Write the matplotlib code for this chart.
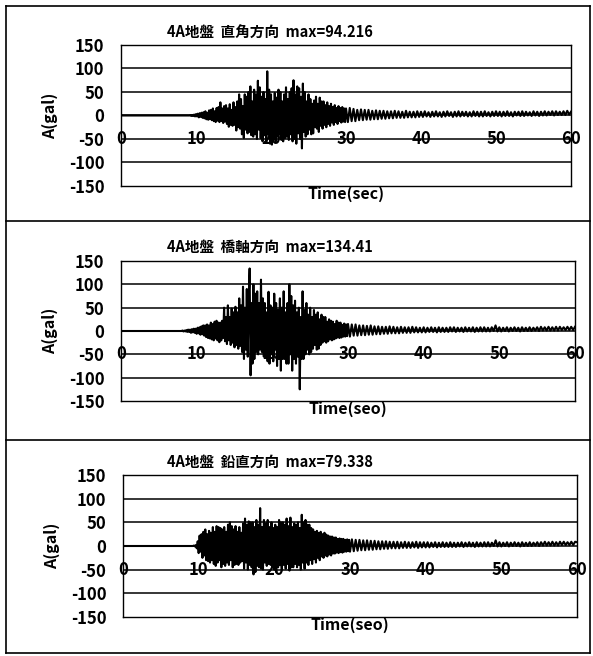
import numpy as np
import matplotlib
matplotlib.use("Agg")
import matplotlib.pyplot as plt
from matplotlib.lines import Line2D

plt.rcParams['font.family'] = ['Noto Sans CJK JP', 'DejaVu Sans']
plt.rcParams['font.weight'] = 'bold'

# acceleration records (gal)
# strong-motion part: every 0.125 s from 8 s to 30 s
# tail: every 0.25 s from 30 s to 60 s
t_start, t_mid, t_end = 8.0, 30.0, 60.0

perp_main = [
    0, 0, 0, 0, 0, 0, 0, 0,
    0, 0, 1, -1, 1, -1, 2, -2,
    3, -2, 4, -4, 5, -3, 6, -5,
    7, -6, 9, -8, 6, -9, 11, -8,
    12, -10, 15, -12, 9, -14, 16, -11,
    18, -14, 28, -12, 15, -16, 20, -13,
    22, -18, 15, -24, 24, -20, 12, -22,
    28, -20, 18, -32, 30, -25, 45, -28,
    35, -40, 20, -48, 45, -30, 40, -38,
    50, -35, 62, -42, 30, -45, 55, -40,
    45, -50, 74, -30, 60, -48, 40, -55,
    50, -42, 35, -58, 94, -40, 55, -60,
    45, -62, 30, -50, 48, -55, 38, -45,
    55, -40, 50, -52, 30, -55, 45, -48,
    60, -45, 35, -52, 50, -40, 58, -55,
    75, -50, 45, -60, 62, -38, 58, -50,
    40, -70, 68, -35, 50, -45, 30, -40,
    45, -30, 35, -40, 25, -38, 32, -25,
    40, -28, 25, -35, 38, -22, 30, -28,
    30, -20, 22, -25, 28, -18, 20, -22,
    25, -15, 18, -20, 22, -14, 16, -18,
    20, -12, 16, -15, 18, -13, 15, -14,
]
perp_tail = [
    15, -14, 16, -12, 14, -12, 12, -10,
    13, -10, 12, -9, 12, -9, 10, -8,
    11, -8, 10, -7, 10, -7, 9, -6,
    9, -6, 10, -5, 9, -5, 8, -5,
    10, -4, 8, -4, 8, -4, 9, -3,
    8, -3, 9, -2, 7, -3, 8, -2,
    9, -2, 7, -3, 8, -2, 9, -1,
    7, -3, 8, -2, 9, -2, 8, -1,
    8, -2, 7, -2, 9, -1, 8, -2,
    8, -2, 9, -1, 7, -2, 8, -1,
    9, -1, 8, -2, 8, -1, 9, -1,
    7, -2, 8, 0, 8, -1, 9, -1,
    8, 0, 7, -1, 9, 0, 8, -1,
    8, 0, 9, 0, 8, 1, 9, 0,
    9, 1, 8, 1, 9, 1, 10, 2,
    8,
]

axial_main = [
    0, 1, -1, 1, -1, 2, -2, 3,
    -2, 3, -4, 4, -3, 5, -4, 5,
    -6, 7, -5, 8, -8, 10, -7, 12,
    -10, 12, -13, 14, -15, 12, -16, 18,
    -18, 15, -20, 20, -16, 22, -20, 18,
    -24, 18, -20, 22, -15, 50, -22, 30,
    -28, 55, -20, 30, -30, 48, -25, 40,
    -35, 52, -30, 40, -38, 70, -32, 55,
    -45, 95, -60, 50, -40, 90, -55, 70,
    134, -95, 60, -70, 100, -60, 80, -45,
    85, -50, 60, -40, 110, -45, 70, -55,
    60, -55, 40, -65, 84, -70, 55, -50,
    50, -65, 80, -40, 60, -75, 45, -60,
    70, -85, 50, -60, 85, -60, 40, -70,
    60, -70, 100, -50, 75, -85, 55, -60,
    65, -70, 40, -55, 50, -125, 30, -60,
    85, -60, 45, -50, 60, -40, 35, -50,
    50, -45, 30, -38, 45, -30, 35, -40,
    40, -38, 25, -30, 35, -25, 30, -22,
    30, -25, 20, -22, 25, -18, 22, -20,
    20, -18, 15, -16, 22, -14, 18, -15,
    18, -14, 13, -12, 16, -12, 14, -11,
]
axial_tail = [
    15, -12, 14, -10, 14, -10, 12, -9,
    12, -9, 11, -8, 12, -8, 10, -7,
    10, -7, 9, -6, 9, -6, 10, -5,
    9, -5, 8, -5, 9, -4, 8, -4,
    8, -4, 9, -3, 8, -3, 7, -3,
    8, -3, 7, -2, 8, -2, 7, -3,
    8, -2, 7, -2, 7, -2, 8, -1,
    8, -2, 7, -1, 7, -2, 8, -1,
    7, -1, 8, -2, 7, -1, 8, -1,
    8, -1, 7, -1, 8, 0, 12, -1,
    8, -1, 7, 0, 8, -1, 7, 0,
    8, 0, 7, -1, 8, 0, 7, 0,
    8, 0, 7, 1, 8, 0, 9, 1,
    8, 1, 9, 1, 8, 1, 9, 1,
    9, 2, 8, 2, 9, 2, 9, 2,
    9,
]

vert_main = [
    0, 0, 0, 0, 0, 0, 0, 0,
    0, 0, 0, 1, -1, 2, -5, 10,
    -15, 22, -12, 25, -25, 30, -20, 35,
    -30, 25, -32, 32, -35, 28, -30, 40,
    -38, 30, -42, 42, -35, 40, -30, 38,
    -45, 35, -38, 40, -42, 30, -35, 45,
    -40, 50, -30, 42, -45, 35, -40, 42,
    -38, 30, -40, 40, -35, 28, -32, 48,
    -48, 58, -35, 45, -50, 52, -40, 50,
    -45, 50, -60, 40, -55, 55, -42, 45,
    -45, 80, -48, 40, -50, 55, -35, 48,
    -42, 55, -38, 40, -40, 50, -45, 38,
    -50, 45, -55, 40, -45, 55, -40, 50,
    -50, 50, -40, 45, -48, 58, -38, 42,
    -52, 60, -45, 40, -45, 48, -38, 45,
    -45, 50, -40, 38, -50, 66, -35, 50,
    -48, 55, -35, 45, -40, 45, -30, 38,
    -38, 35, -28, 30, -35, 32, -25, 28,
    -30, 30, -22, 25, -25, 28, -20, 24,
    -22, 22, -18, 20, -20, 20, -16, 18,
    -16, 18, -14, 15, -15, 16, -13, 15,
    -14, 15, -12, 13, -12, 14, -11, 13,
]
vert_tail = [
    -12, 14, -11, 13, -10, 13, -9, 12,
    -9, 12, -8, 11, -8, 11, -7, 10,
    -7, 10, -6, 10, -6, 9, -5, 9,
    -5, 9, -5, 8, -4, 9, -4, 8,
    -4, 8, -3, 9, -4, 8, -3, 8,
    -3, 8, -3, 7, -2, 8, -3, 7,
    -2, 8, -2, 7, -2, 8, -2, 7,
    -2, 7, -1, 8, -2, 7, -1, 8,
    -1, 7, -2, 8, -1, 7, -1, 8,
    -1, 8, -1, 7, 0, 12, -1, 8,
    -1, 7, 0, 8, -1, 7, 0, 8,
    0, 7, -1, 8, 0, 7, 0, 8,
    0, 7, 1, 8, 0, 8, 1, 9,
    1, 8, 1, 9, 1, 8, 1, 9,
    2, 9, 2, 8, 2, 9, 2, 9,
    8,
]

titles = ["4A地盤  直角方向  max=94.216",
          "4A地盤  橋軸方向  max=134.41",
          "4A地盤  鉛直方向  max=79.338"]
xlabels = ["Time(sec)", "Time(seo)", "Time(seo)"]
records = [(perp_main, perp_tail), (axial_main, axial_tail), (vert_main, vert_tail)]

y_ticks = [150, 100, 50, 0, -50, -100, -150]
y_ticklabels = ["150", "100", "50", "0", "-50", "-100", "-150"]
x_ticks = [0, 10, 20, 30, 40, 50, 60]
x_ticklabels = ["0", "10", "20", "30", "40", "50", "60"]

W, H = 593, 656
fig = plt.figure(figsize=(W / 100, H / 100), dpi=100)

# plot boxes in pixels: left, top, right, bottom
boxes = [(121, 45, 571, 186), (121, 261, 575, 401), (123, 475, 577, 617)]
title_y = [33, 247, 462]

for k in range(3):
    l, t, r, b = boxes[k]
    ax = fig.add_axes([l / W, 1 - b / H, (r - l) / W, (b - t) / H])
    main, tail = records[k]
    t_main = np.linspace(t_start, t_mid, len(main), endpoint=False)
    t_tail = np.linspace(t_mid, t_end, len(tail))
    tt = np.concatenate([[0.0], t_main, t_tail])
    aa = np.concatenate([[0.0], main, tail])
    ax.plot(tt, aa, color='black', lw=1.5)
    ax.set_xlim(0, 60)
    ax.set_ylim(-150, 150)
    for g in [100, 50, 0, -50, -100]:
        ax.axhline(g, color='black', lw=1.1, zorder=0)
    for s in ax.spines.values():
        s.set_linewidth(1.0)
    ax.set_yticks(y_ticks)
    ax.set_yticklabels(y_ticklabels, fontsize=12, fontweight='bold')
    ax.tick_params(axis='y', length=0, pad=12)
    ax.set_xticks([])
    for xv, lab in zip(x_ticks, x_ticklabels):
        ax.text(xv, -50, lab, ha='center', va='center', fontsize=12,
                fontweight='bold', zorder=5)
    ax.set_xlabel(xlabels[k], fontsize=11.5, fontweight='bold', labelpad=0)
    ax.set_ylabel("A(gal)", fontsize=11.5, fontweight='bold', labelpad=8)
    fig.text(270 / W, 1 - title_y[k] / H, titles[k], ha='center', va='center',
             fontsize=10.5, fontweight='bold')

# outer frame and separators
frame_x = [6, 590]
frame_y = [6, 221, 440, 653]
for yy in frame_y:
    fig.add_artist(Line2D([frame_x[0] / W, frame_x[1] / W], [1 - yy / H, 1 - yy / H],
                          color='black', lw=1.2))
for xx in frame_x:
    fig.add_artist(Line2D([xx / W, xx / W], [1 - frame_y[0] / H, 1 - frame_y[-1] / H],
                          color='black', lw=1.2))

fig.savefig("out.png", dpi=100)
